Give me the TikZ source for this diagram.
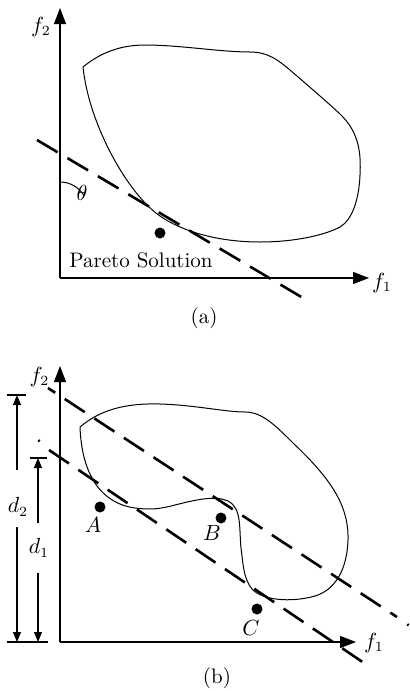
\documentclass[tikz,border=0pt]{standalone}
\usetikzlibrary{arrows.meta}
\begin{document}
\begin{tikzpicture}[x=0.5pt,y=-0.5pt,
  axis/.style={line width=0.6pt,-{Triangle[length=8pt,width=6pt]}},
  region/.style={line width=0.5pt},
  dashline/.style={line width=1.3pt,dash pattern=on 12pt off 5.7pt},
  dotpt/.style={circle,fill,inner sep=0pt,minimum size=5.5pt},
  lbl/.style={inner sep=1pt,font=\fontsize{10.5}{12}\selectfont},
  dim/.style={line width=0.6pt,-{Triangle[length=5pt,width=4pt]}},
  tick/.style={line width=0.6pt}]
\useasboundingbox (0,0) rectangle (409,691);
% ---------- (a) ----------
\coordinate (oa) at (60,278);
\coordinate (ya) at (60,8);
\coordinate (xa) at (369,278);
\draw[axis] (oa) -- (ya);
\draw[axis] (oa) -- (xa);
\node[lbl] (f2a) at (41,27) {$f_2$};
\node[lbl] (f1a) at (382,283) {$f_1$};
\draw[region] (83,67) .. controls (100,53) and (120,45) .. (145,45)
  .. controls (180,45) and (220,52) .. (250,52)
  .. controls (268,52) and (278,60) .. (290,70)
  .. controls (305,83) and (325,100) .. (340,114)
  .. controls (360,133) and (361,155) .. (360,175)
  .. controls (359,200) and (352,220) .. (340,227)
  .. controls (325,235) and (295,242) .. (260,242)
  .. controls (215,242) and (180,230) .. (160,216)
  .. controls (128,194) and (89,125) .. (83,67);
\coordinate (la1) at (37,140);
\coordinate (la2) at (303,298);
\draw[dashline] (la1) -- (la2);
\draw[line width=0.5pt] (60,182) arc[start angle=-90,end angle=-30.7,radius=28];
\node[lbl] (theta) at (82,193) {$\theta$};
\node[dotpt] (pa) at (160,233) {};
\node[lbl] (pareto) at (141,260) {Pareto Solution};
\node[lbl] (capa) at (204,318) {(a)};
% ---------- (b) ----------
\coordinate (ob) at (60,642);
\coordinate (yb) at (60,366);
\coordinate (xb) at (356,642);
\draw[axis] (ob) -- (yb);
\draw[axis] (ob) -- (xb);
\node[lbl] (f2b) at (39.5,377) {$f_2$};
\node[lbl] (f1b) at (374,643) {$f_1$};
\draw[region] (80,427) .. controls (100,410) and (125,403) .. (160,404)
  .. controls (195,405) and (225,412) .. (245,412)
  .. controls (262,412) and (275,425) .. (293,443)
  .. controls (330,478) and (349,505) .. (348,540)
  .. controls (347,570) and (335,590) .. (315,596)
  .. controls (290,603) and (262,600) .. (252,589)
  .. controls (243,578) and (243,562) .. (241,548)
  .. controls (239,528) and (242,508) .. (228,501)
  .. controls (215,495) and (195,500) .. (175,505)
  .. controls (160,509) and (150,510) .. (135,508)
  .. controls (105,504) and (82,480) .. (80,427);
\coordinate (ub1) at (48,388);
\coordinate (ub2) at (397,617);
\draw[dashline,dash phase=7.7pt] (ub1) -- (ub2);
\coordinate (ue1) at (407.3,624.3);
\coordinate (ue2) at (408.7,625.3);
\draw[line width=1.3pt] (ue1) -- (ue2);
\coordinate (lb1) at (49,450);
\coordinate (lb2) at (364,663);
\draw[dashline] (lb1) -- (lb2);
\coordinate (le1) at (38.3,440.3);
\coordinate (le2) at (39.7,441.3);
\draw[line width=1.3pt] (le1) -- (le2);
\node[dotpt] (A) at (100,507) {};
\node[lbl] (Al) at (93,525) {$A$};
\node[dotpt] (B) at (221,518) {};
\node[lbl] (Bl) at (212,533) {$B$};
\node[dotpt] (C) at (257,609) {};
\node[lbl] (Cl) at (251,628) {$C$};
% dimensions
\coordinate (t2a) at (7,395);   \coordinate (t2b) at (26,395);
\coordinate (t1a) at (30,458);  \coordinate (t1b) at (47,458);
\coordinate (t0a) at (7,642);   \coordinate (t0b) at (48,642);
\draw[tick] (t2a) -- (t2b);
\draw[tick] (t1a) -- (t1b);
\draw[tick] (t0a) -- (t0b);
\node[lbl] (d2) at (18,507) {$d_2$};
\node[lbl] (d1) at (39,548) {$d_1$};
\draw[dim] (17,470) -- (17,395);
\draw[dim] (17,527) -- (17,642);
\draw[dim] (38,523) -- (38,458);
\draw[dim] (38,573) -- (38,642);
\node[lbl] (capb) at (217,678) {(b)};
\end{tikzpicture}
\end{document}
